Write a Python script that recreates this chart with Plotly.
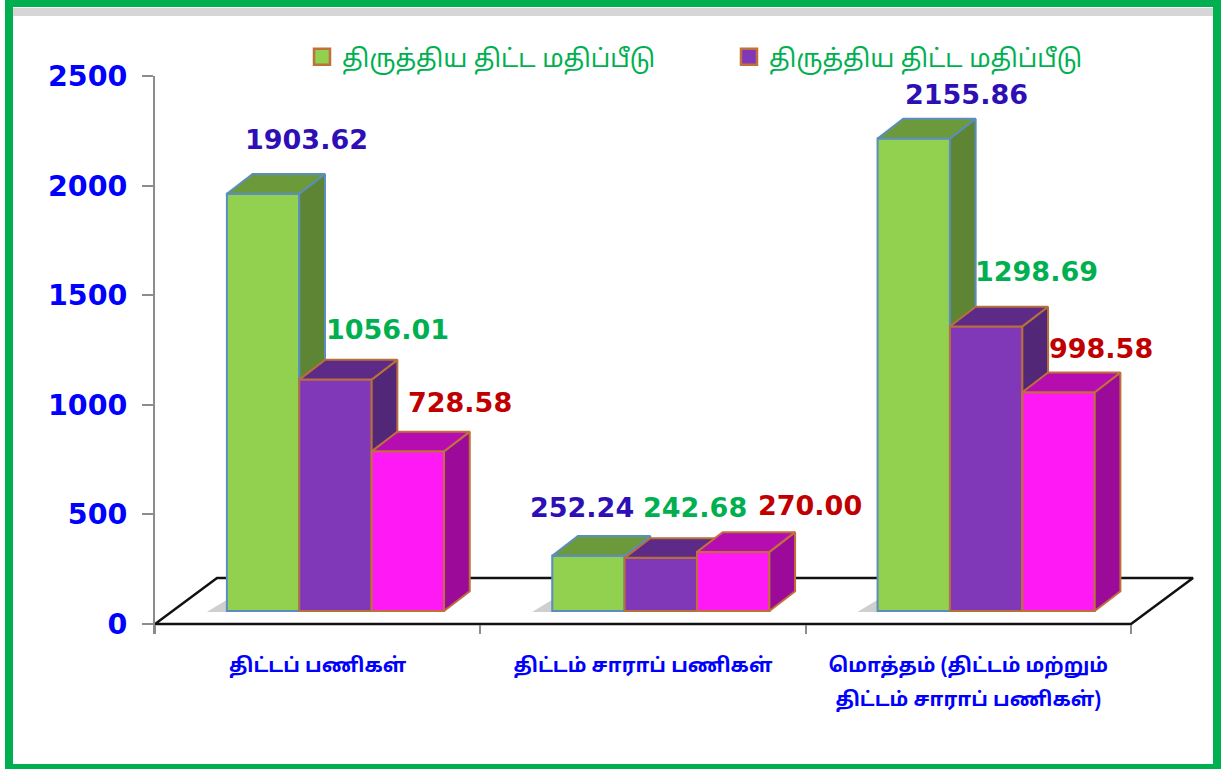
import plotly.graph_objects as go

# ---- data ----
categories = [["திட்டப் பணிகள்"], ["திட்டம் சாராப் பணிகள்"], ["மொத்தம் (திட்டம் மற்றும்", "திட்டம் சாராப் பணிகள்)"]]
legend_name = "திருத்திய திட்ட மதிப்பீடு"
series_a = [1903.62, 252.24, 2155.86]
series_b = [1056.01, 242.68, 1298.69]
series_c = [728.58, 270.00, 998.58]
y_ticks = [0, 500, 1000, 1500, 2000, 2500]

# ---- style ----
W, H = 1221, 769
L, T = 155, 76
PX_PER_CAT = 325.33
PX_PER_UNIT = 548 / 2500
R, B = 1200, 634            # plot area reaches past the floor so that nothing is clipped
X_RANGE = [0, (R - L) / PX_PER_CAT]
Y_RANGE = [-(B - 624) / PX_PER_UNIT, 2500]
centers = [0.5, 1.5, 2.5]
BASE = 59.0
BAR_W = 0.2225
OFFS = [-0.279, -0.279 + BAR_W, -0.279 + 2 * BAR_W]
DX, DY = 0.079, 90.0
FX, FY = 0.1906, 210.0
LBL_FONT = "DejaVu Sans"
TAMIL = "'Noto Sans Tamil','Noto Sans','Lohit Tamil',sans-serif"
styles = [
    dict(front="#92D050", top="#6C9A3A", side="#5E8533", line="#5B8DBE", lbl="#2E0FB5"),
    dict(front="#8038B8", top="#5E2A88", side="#522778", line="#B5703C", lbl="#00B050"),
    dict(front="#FF19F5", top="#B50DB0", side="#9C0A99", line="#C0703A", lbl="#C00000"),
]
lbl_shift = [[(43, 54), (-6, 48), (53, 44)],
             [(52, 50), (34, 50), (50, 55)],
             [(52, 49), (77, 46), (42, 44)]]

fig = go.Figure()

# floor (base subplot, under the bars)
fig.add_trace(go.Scatter(x=[0, 3, 3 + FX, FX, 0], y=[0, 0, FY, FY, 0], mode="lines",
                         line=dict(color="#111111", width=2.5),
                         showlegend=False, hoverinfo="skip"))
for c in centers:
    x0 = c + OFFS[0]
    fig.add_trace(go.Scatter(x=[x0, x0, x0 - 0.062, x0], y=[BASE - 4, BASE + 52, BASE - 4, BASE - 4],
                             mode="lines", fill="toself", fillcolor="rgba(175,175,175,0.6)",
                             line=dict(width=0), showlegend=False, hoverinfo="skip"))

# legend entries
for st in styles[:2]:
    fig.add_trace(go.Scatter(x=[None], y=[None], mode="markers", name=legend_name,
                             marker=dict(symbol="square", size=17, color=st["front"],
                                         line=dict(color="#C0703A", width=2.5))))

# bars and their 3D faces
all_vals = [series_a, series_b, series_c]
for i, (vals, st) in enumerate(zip(all_vals, styles)):
    xa, ya = f"x{i + 2}", f"y{i + 2}"
    fig.add_trace(go.Bar(x=centers, y=vals, base=BASE, offset=OFFS[i], width=BAR_W,
                         marker=dict(color=st["front"], line=dict(color=st["line"], width=2)),
                         xaxis=xa, yaxis=ya, showlegend=False, hoverinfo="skip"))
    for c, v in zip(centers, vals):
        x0 = c + OFFS[i]
        x1 = x0 + BAR_W
        tp = BASE + v
        fig.add_trace(go.Scatter(x=[x1, x1 + DX, x1 + DX, x1, x1], y=[BASE, BASE + DY, tp + DY, tp, BASE],
                                 mode="lines", fill="toself", fillcolor=st["side"],
                                 line=dict(color=st["line"], width=2), xaxis=xa, yaxis=ya,
                                 showlegend=False, hoverinfo="skip", cliponaxis=False))
        fig.add_trace(go.Scatter(x=[x0, x0 + DX, x1 + DX, x1, x0], y=[tp, tp + DY, tp + DY, tp, tp],
                                 mode="lines", fill="toself", fillcolor=st["top"],
                                 line=dict(color=st["line"], width=2), xaxis=xa, yaxis=ya,
                                 showlegend=False, hoverinfo="skip", cliponaxis=False))

annotations = []
for i, (vals, st) in enumerate(zip(all_vals, styles)):
    for j, v in enumerate(vals):
        sx, sy = lbl_shift[i][j]
        annotations.append(dict(x=centers[j] + OFFS[i] + BAR_W / 2, y=BASE + v, xref="x", yref="y",
                                text=f"{v:.2f}", showarrow=False, xshift=sx, yshift=sy,
                                font=dict(family=LBL_FONT, size=27, color=st["lbl"], weight="bold")))

fw, fh = R - L, B - T
px = lambda p: (p - L) / fw
py = lambda p: (B - p) / fh
shapes = [
    dict(type="rect", xref="paper", yref="paper", layer="below", x0=px(13), x1=px(1213), y0=py(8), y1=py(16),
         fillcolor="#D6D6D6", line=dict(width=0)),
    dict(type="rect", xref="paper", yref="paper", layer="above", x0=px(9), x1=px(1217), y0=py(3), y1=py(768),
         fillcolor="rgba(0,0,0,0)", line=dict(color="#00B050", width=8)),
]

layout_axes = {}
for n in (2, 3, 4):
    layout_axes[f"xaxis{n}"] = dict(overlaying="x", range=X_RANGE, visible=False, anchor=f"y{n}", fixedrange=True)
    layout_axes[f"yaxis{n}"] = dict(overlaying="y", range=Y_RANGE, visible=False, anchor=f"x{n}", fixedrange=True)

tick_text = ["<br>".join(f'<span style="font-size:20px">{line}</span>' for line in cat) for cat in categories]

fig.update_layout(
    width=W, height=H, autosize=False,
    margin=dict(l=L, r=W - R, t=T, b=H - B, pad=0),
    paper_bgcolor="white", plot_bgcolor="rgba(0,0,0,0)",
    barmode="overlay", showlegend=True,
    legend=dict(orientation="h", x=px(302), y=py(34), xanchor="left", yanchor="top",
                entrywidth=382, entrywidthmode="pixels", bgcolor="rgba(0,0,0,0)",
                font=dict(family=TAMIL, size=25, color="#00B050")),
    xaxis=dict(range=X_RANGE, tickmode="array", tickvals=centers, ticktext=tick_text, ticks="",
               showgrid=False, zeroline=False, showline=False,
               minor=dict(tickmode="array", tickvals=[0, 1, 2, 3], ticks="inside", ticklen=9, tickwidth=2, tickcolor="#8C8C8C"),
               ticklabelstandoff=11,
               tickfont=dict(family=TAMIL, size=26, color="#0000FF", weight="bold"), fixedrange=True),
    yaxis=dict(range=Y_RANGE, tickvals=y_ticks, ticks="outside", ticklen=11, tickwidth=2, tickcolor="#8C8C8C",
               showline=True, linecolor="#8C8C8C", linewidth=2, showgrid=False, zeroline=False,
               ticklabelstandoff=9,
               tickfont=dict(family=LBL_FONT, size=28.5, color="#0000FF", weight="bold"), fixedrange=True),
    annotations=annotations, shapes=shapes, **layout_axes,
)

fig.write_html("out.html", config=dict(displayModeBar=False),
               post_script="document.body.style.margin='0';document.body.style.overflow='hidden';")
